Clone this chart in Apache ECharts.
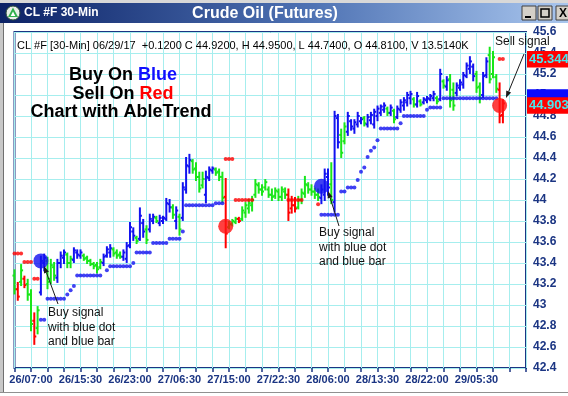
<!DOCTYPE html>
<html><head><meta charset="utf-8">
<script src="https://cdn.jsdelivr.net/npm/echarts@6/dist/echarts.min.js"></script>
<style>html,body{margin:0;padding:0;background:#fff}#c{width:568px;height:396px}</style>
</head><body><div id="c"></div>
<script>
// ---------- DATA ----------
// 30-min bars [open, high, low, close]
const ohlc = [
[43.28,43.33,43.11,43.15],[43.15,43.21,43.05,43.08],[43.22,43.38,43.19,43.33],[43.25,43.27,43.17,43.19],
[43.20,43.24,43.05,43.10],[43.10,43.14,42.76,42.82],[42.85,42.92,42.63,42.70],[42.78,42.98,42.73,42.95],
[43.12,43.46,43.10,43.42],[43.40,43.48,43.33,43.45],[43.42,43.45,43.16,43.22],[43.25,43.43,43.21,43.38],
[43.36,43.40,43.24,43.28],[43.26,43.43,43.22,43.40],[43.40,43.50,43.36,43.47],[43.45,43.52,43.40,43.50],
[43.48,43.49,43.36,43.40],[43.40,43.46,43.36,43.44],[43.43,43.54,43.41,43.52],[43.50,43.52,43.45,43.48],
[43.47,43.52,43.45,43.50],[43.47,43.48,43.43,43.44],[43.45,43.46,43.40,43.42],[43.42,43.43,43.38,43.39],
[43.39,43.40,43.35,43.37],[43.38,43.40,43.31,43.34],[43.36,43.43,43.35,43.41],[43.40,43.48,43.38,43.46],
[43.47,43.55,43.46,43.53],[43.50,43.57,43.46,43.54],[43.53,43.54,43.47,43.49],[43.50,43.52,43.45,43.47],
[43.48,43.50,43.45,43.46],[43.46,43.52,43.43,43.50],[43.44,43.59,43.41,43.56],[43.57,43.78,43.55,43.74],
[43.70,43.73,43.62,43.66],[43.64,43.65,43.59,43.61],[43.63,43.92,43.62,43.85],[43.78,43.81,43.65,43.70],
[43.72,43.75,43.59,43.62],[43.72,43.86,43.70,43.82],[43.80,43.86,43.78,43.84],[43.83,43.84,43.79,43.80],
[43.78,43.85,43.76,43.83],[43.80,43.84,43.78,43.83],[43.82,44.01,43.81,43.97],[43.96,44.00,43.89,43.93],
[43.93,43.95,43.83,43.86],[43.80,43.93,43.73,43.90],[43.84,43.86,43.67,43.72],[43.83,44.16,43.81,44.12],
[44.10,44.40,44.07,44.33],[44.32,44.43,44.26,44.38],[44.37,44.38,44.26,44.29],[44.30,44.35,44.19,44.22],
[44.22,44.26,44.08,44.11],[44.14,44.26,44.12,44.20],[44.05,44.27,43.98,44.22],[44.21,44.31,44.19,44.29],
[44.28,44.31,44.26,44.30],[44.29,44.30,44.24,44.26],[44.27,44.29,44.19,44.22],[44.22,44.26,43.98,44.02],
[44.03,44.20,43.55,43.68],[43.74,43.79,43.73,43.77],[43.77,43.81,43.76,43.80],[43.79,43.83,43.78,43.82],
[43.82,43.83,43.79,43.80],[43.82,43.93,43.81,43.90],[43.88,43.97,43.84,43.95],[43.92,44.00,43.88,43.97],
[43.95,44.03,43.90,44.00],[44.05,44.19,44.03,44.15],[44.14,44.16,44.07,44.10],[44.10,44.14,44.05,44.08],
[44.12,44.19,44.10,44.17],[44.10,44.12,44.03,44.05],[44.05,44.10,44.00,44.03],[44.04,44.11,44.02,44.09],
[44.08,44.10,44.00,44.03],[44.03,44.12,44.00,44.10],[44.08,44.11,44.02,44.05],[44.05,44.10,43.81,43.88],
[43.92,44.03,43.88,43.95],[43.95,44.02,43.89,43.92],[43.93,44.03,43.92,44.00],[44.00,44.10,43.97,44.07],
[44.06,44.22,44.03,44.15],[44.14,44.16,44.07,44.10],[44.10,44.14,44.05,44.08],[44.08,44.11,44.02,44.05],
[44.05,44.10,44.00,44.03],[44.02,44.14,43.97,44.10],[44.05,44.29,44.00,44.25],[44.22,44.29,44.05,44.12],
[44.15,44.35,43.97,44.00],[43.98,44.84,43.89,44.80],[44.78,44.81,44.50,44.55],[44.62,44.67,44.41,44.45],
[44.56,44.73,44.54,44.70],[44.65,44.83,44.62,44.80],[44.75,44.76,44.67,44.70],[44.68,44.76,44.64,44.74],
[44.72,44.83,44.70,44.80],[44.75,44.78,44.73,44.77],[44.78,44.79,44.71,44.73],[44.72,44.81,44.70,44.79],
[44.76,44.83,44.73,44.81],[44.72,44.86,44.69,44.84],[44.80,44.89,44.76,44.87],[44.83,44.90,44.81,44.89],
[44.86,44.92,44.84,44.90],[44.87,44.88,44.81,44.83],[44.83,44.90,44.81,44.88],[44.85,44.86,44.74,44.77],
[44.79,44.89,44.78,44.87],[44.86,44.95,44.84,44.93],[44.90,44.97,44.86,44.95],[44.93,45.02,44.90,45.00],
[44.97,45.03,44.92,45.01],[44.96,44.97,44.89,44.91],[44.91,45.02,44.89,44.99],[44.94,44.95,44.90,44.91],
[44.93,44.97,44.92,44.96],[44.95,44.98,44.93,44.97],[44.96,45.00,44.95,44.99],[44.97,45.03,44.95,45.01],
[44.97,44.98,44.92,44.94],[44.96,45.24,44.95,45.20],[45.13,45.14,45.07,45.09],[45.08,45.17,45.05,45.14],
[45.15,45.19,44.89,44.95],[45.05,45.11,44.86,44.90],[45.02,45.11,45.00,45.09],[45.07,45.14,45.05,45.12],
[45.10,45.21,45.07,45.19],[45.18,45.30,45.17,45.28],[45.25,45.36,45.21,45.32],[45.27,45.29,45.14,45.18],
[45.20,45.22,45.03,45.07],[45.08,45.11,44.93,44.97],[45.00,45.21,44.98,45.18],[45.19,45.35,45.17,45.32],
[45.38,45.45,45.12,45.15],[45.20,45.41,45.17,45.36],[45.17,45.19,45.03,45.06],[45.05,45.11,44.74,44.80],
[44.81,44.95,44.74,44.92]
];
// AbleTrend bar colour per bar: b = blue (up), g = green (neutral), r = red (down)
const trend = ("grgrggrg" + "bbgggbbbggbbb" + "gggggg" + "bbbgggbbbb" + "gbbgbbgbbbbgbgbbb" +
  "gggg" + "bbb" + "ggg" + "r" + "ggg" + "r" + "gggggggggggggg" + "rrr" + "ggggggg" +
  "bbbgbbgg" + "bbbbbg" + "bbbbbbgbg" + "bbbbbgbg" + "bbbbgbgbgg" + "bbbbbbggbbggg" + "rr").split("");
// stop dots: [fromBar, toBar, price]
const blueStopRuns = [[8,9,42.86],[10,15,43.06],[16,16,43.10],[17,17,43.14],[18,18,43.18],[19,26,43.28],
  [28,28,43.33],[29,35,43.37],[36,36,43.40],[37,41,43.50],[42,46,43.59],[47,50,43.63],[51,51,43.70],
  [52,60,43.95],[61,63,43.97],[93,98,43.86],[99,100,44.08],[101,103,44.12],[104,104,44.19],[105,105,44.27],
  [106,106,44.31],[107,107,44.41],[108,108,44.47],[109,109,44.50],[110,110,44.57],[111,116,44.68],
  [117,117,44.73],[118,124,44.80],[125,125,44.86],[126,129,44.88],[130,146,44.97]];
const redStopRuns = [[0,2,43.49],[3,5,43.41],[6,7,43.25],[64,66,44.39],[67,72,44.00],[83,87,44.00],
  [92,92,43.96],[147,148,45.344]];
// signals [bar, price]
const buySignals = [[8,43.42],[93,44.13]];
const sellSignals = [[64,43.75],[147,44.90]];
// right-edge price boxes
const boxValues = [44.978, 45.344, 44.903];
const boxLabels = ['', '45.344', '44.903'];
const boxColors = ['#0a0aff', '#ff0000', '#ff0000'];
// y-axis scale
const yMin = 42.4, yMax = 45.6, yStep = 0.2;
// time categories: 30-min bars from 26/04:30, session break 14:00-15:00
const categories = (function(){
  const out = []; let d = 26, mins = 4*60+30;
  while (out.length < 156) {
    const h = Math.floor(mins/60), m = mins % 60;
    if (h !== 14) out.push(String(d).padStart(2,'0') + '/' + String(h).padStart(2,'0') + ':' + String(m).padStart(2,'0'));
    mins += 30; if (mins >= 1440) { mins -= 1440; d++; }
  }
  return out;
})();
const lastLabelIndex = 140; // 29/05:30

// ---------- CHART ----------
const COL = { b: '#1212f0', g: '#19e619', r: '#ff0000' };
const NAVY = '#1b3583';
const FONT = 'Liberation Sans, Arial, sans-serif';
function expand(runs){ const o=[]; runs.forEach(r=>{ for(let i=r[0];i<=r[1];i++) o.push([i,r[2]]); }); return o; }

const chart = echarts.init(document.getElementById('c'), null, {renderer:'canvas'});

function arrow(x1,y1,x2,y2){
  const dx=x2-x1, dy=y2-y1, len=Math.hypot(dx,dy), ux=dx/len, uy=dy/len;
  const hl=7, hw=2.6, bx=x2-ux*hl, by=y2-uy*hl;
  return [
    {type:'line', z:100, shape:{x1:x1,y1:y1,x2:bx,y2:by}, style:{stroke:'#1a1a1a', lineWidth:1}},
    {type:'polygon', z:100, shape:{points:[[x2,y2],[bx-uy*hw,by+ux*hw],[bx+uy*hw,by-ux*hw]]}, style:{fill:'#1a1a1a'}}
  ];
}
function txt(x,y,text,font,fill,align){
  return {type:'text', z:100, x:x, y:y, style:{text:text, font:font, fill:fill||'#000', align:align||'left', verticalAlign:'middle'}};
}

const graphics = [
  {type:'rect', z:50, shape:{x:0,y:0,width:568,height:3}, style:{fill:'#d8d8d8'}},
  {type:'rect', z:50, shape:{x:0,y:3,width:568,height:20},
    style:{fill:new echarts.graphic.LinearGradient(0,0,1,0,[{offset:0,color:'#0c2266'},{offset:0.55,color:'#4f73b4'},{offset:1,color:'#a9c6ee'}])}},
  {type:'rect', z:50, shape:{x:0,y:23,width:3,height:370}, style:{fill:'#c8c8c8'}},
  {type:'line', z:50, shape:{x1:3.5,y1:23,x2:3.5,y2:392}, style:{stroke:'#707070', lineWidth:1}},
  {type:'line', z:50, shape:{x1:0,y1:392.5,x2:568,y2:392.5}, style:{stroke:'#909090', lineWidth:1}},
  {type:'circle', z:60, shape:{cx:13,cy:13,r:7}, style:{fill:'#e8efe8', stroke:'#2c4c3c', lineWidth:1}},
  {type:'polygon', z:61, shape:{points:[[13,7.5],[18,17],[8,17]]}, style:{fill:'#2fb04a'}},
  {type:'polygon', z:62, shape:{points:[[13,11.5],[15.3,16],[10.7,16]]}, style:{fill:'#ffffff'}},
  txt(24,13,'CL #F 30-Min','bold 12px '+FONT,'#ffffff'),
  txt(265,13.5,'Crude Oil (Futures)','bold 16px '+FONT,'#ffffff','center'),
  {type:'rect', z:60, shape:{x:522,y:6,width:14,height:14}, style:{fill:'#d4d0c8', stroke:'#404040', lineWidth:1}},
  {type:'rect', z:60, shape:{x:538,y:6,width:14,height:14}, style:{fill:'#d4d0c8', stroke:'#404040', lineWidth:1}},
  {type:'rect', z:60, shape:{x:556,y:6,width:14,height:14}, style:{fill:'#d4d0c8', stroke:'#404040', lineWidth:1}},
  {type:'line', z:61, shape:{x1:525,y1:17,x2:531,y2:17}, style:{stroke:'#000', lineWidth:2}},
  {type:'rect', z:61, shape:{x:541,y:9,width:8,height:8}, style:{fill:'none', stroke:'#000', lineWidth:1.5}},
  txt(563,13.5,'X','bold 12px '+FONT,'#000','center'),
  txt(17,45.5,'CL #F [30-Min] 06/29/17  +0.1200 C 44.9200, H 44.9500, L 44.7400, O 44.8100, V 13.5140K','11px '+FONT,'#000'),
  {type:'text', z:100, x:123, y:75, style:{text:'Buy On {b|Blue}', font:'bold 18px '+FONT, fill:'#000', align:'center', verticalAlign:'middle',
    rich:{b:{font:'bold 18px '+FONT, fill:'#1010ff'}}}},
  {type:'text', z:100, x:123, y:94, style:{text:'Sell On {r|Red}', font:'bold 18px '+FONT, fill:'#000', align:'center', verticalAlign:'middle',
    rich:{r:{font:'bold 18px '+FONT, fill:'#ff0000'}}}},
  txt(121,112,'Chart with AbleTrend','bold 18px '+FONT,'#000','center'),
  txt(48,313,'Buy signal','12px '+FONT,'#111'),
  txt(48,328,'with blue dot','12px '+FONT,'#111'),
  txt(48,342,'and blue bar','12px '+FONT,'#111'),
  txt(319,233,'Buy signal','12px '+FONT,'#111'),
  txt(319,248,'with blue dot','12px '+FONT,'#111'),
  txt(319,262,'and blue bar','12px '+FONT,'#111'),
  txt(495,42,'Sell signal','12px '+FONT,'#111')
].concat(arrow(58,304,44,266), arrow(339,226,328,191), arrow(524,54,506,98));

const option = {
  animation: false,
  backgroundColor: '#ffffff',
  grid: { left: 14.5, top: 32, width: 511.5, height: 336, show: true, borderColor: NAVY, borderWidth: 2, backgroundColor: '#ffffff' },
  xAxis: {
    type: 'category', data: categories, boundaryGap: false,
    axisLine: { show: false },
    axisTick: { show: true, interval: (i)=> i % 5 === 0, length: 4, lineStyle: { color: NAVY, width: 1.5 } },
    axisLabel: { interval: (i)=> i % 15 === 5 && i <= lastLabelIndex, margin: 6, color: NAVY, fontWeight: 'bold', fontSize: 11, fontFamily: FONT },
    splitLine: { show: true, interval: (i)=> i % 5 === 0, lineStyle: { color: '#a6eeee', width: 1 } }
  },
  yAxis: {
    type: 'value', position: 'right', min: yMin, max: yMax, interval: yStep,
    axisLine: { show: false }, axisTick: { show: false },
    axisLabel: { margin: 7, color: NAVY, fontWeight: 'bold', fontSize: 12, fontFamily: FONT,
      formatter: (v)=> String(parseFloat(v.toFixed(2))) },
    splitLine: { show: true, lineStyle: { color: '#a6eeee', width: 1 } }
  },
  graphic: { elements: graphics },
  series: [
    {
      type: 'custom', name: 'bars', z: 3,
      data: ohlc.map((r,i)=>[i, r[0], r[1], r[2], r[3]]),
      encode: { x: 0, y: [1,2,3,4] },
      renderItem: function(params, api){
        const i = api.value(0);
        const o = api.coord([i, api.value(1)]), h = api.coord([i, api.value(2)]),
              l = api.coord([i, api.value(3)]), c = api.coord([i, api.value(4)]);
        const col = COL[trend[params.dataIndex]] || COL.b;
        const st = { stroke: col, lineWidth: 2 };
        return { type:'group', children:[
          { type:'line', shape:{x1:h[0], y1:h[1]-1, x2:l[0], y2:l[1]+1}, style: st },
          { type:'line', shape:{x1:o[0]-2, y1:o[1], x2:o[0], y2:o[1]}, style: st },
          { type:'line', shape:{x1:c[0], y1:c[1], x2:c[0]+2, y2:c[1]}, style: st }
        ]};
      }
    },
    { type:'scatter', name:'blueStop', z:4, symbol:'circle', symbolSize:4, data: expand(blueStopRuns), itemStyle:{ color:'#1212f0' } },
    { type:'scatter', name:'redStop', z:4, symbol:'circle', symbolSize:4, data: expand(redStopRuns), itemStyle:{ color:'#ff0000' } },
    { type:'scatter', name:'buy', z:6, symbol:'circle', symbolSize:15, data: buySignals, itemStyle:{ color:'#1010f0' } },
    { type:'scatter', name:'sell', z:6, symbol:'circle', symbolSize:15, data: sellSignals, itemStyle:{ color:'#ff1010' } },
    {
      type: 'custom', name: 'priceBoxes', z: 8, clip: false,
      data: boxValues.map(v=>[categories.length-1, v]),
      encode: { x: 0, y: 1 },
      renderItem: function(params, api){
        const cs = params.coordSys;
        const y = api.coord([api.value(0), api.value(1)])[1];
        const k = params.dataIndex, x0 = cs.x + cs.width + 1;
        return { type:'group', children:[
          { type:'rect', shape:{x:x0, y:y-8, width:46, height:16.5}, style:{ fill: boxColors[k] } },
          { type:'text', style:{ x:x0+2, y:y+0.5, text: boxLabels[k], fill:'#45e8f0', font:'bold 13px '+FONT, verticalAlign:'middle' } }
        ]};
      }
    }
  ]
};
chart.setOption(option);
</script></body></html>
